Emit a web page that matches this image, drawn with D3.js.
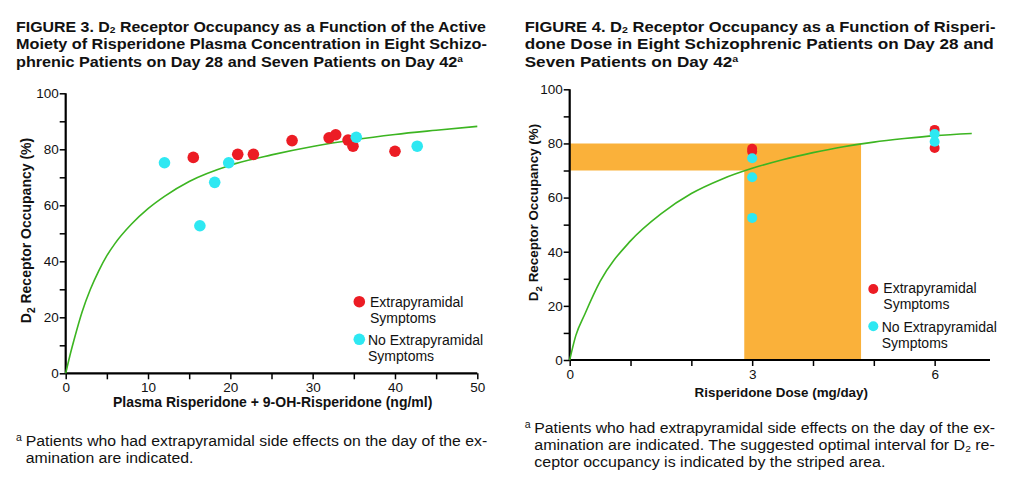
<!DOCTYPE html>
<html><head><meta charset="utf-8">
<script src="https://cdn.jsdelivr.net/npm/d3@7/dist/d3.min.js"></script>
<style>
body{margin:0;background:#fff;}
svg{display:block;font-family:"Liberation Sans",Arial,sans-serif;}
</style></head><body>
<svg id="chart" width="1024" height="490"></svg>
<script>
// ---------- DATA ----------
// Figure 3 (left): plasma concentration vs occupancy
const leftEpsX = [15.5, 20.9, 22.8, 27.5, 32.0, 32.8, 34.3, 34.9, 40.0];
const leftEpsY = [77.1, 78.2, 78.2, 83.1, 84.1, 85.2, 83.3, 81.1, 79.3];
const leftNoX  = [12.0, 16.3, 18.1, 19.8, 35.3, 42.7];
const leftNoY  = [75.2, 52.7, 68.2, 75.2, 84.3, 81.1];
const leftCurveX = [0, 0.5, 1, 2, 3, 4, 5, 6, 8, 10, 12, 15, 20, 25, 30, 35, 40, 45, 50];
const leftCurveY = [0, 6.2, 11.8, 22, 30, 36.5, 42, 46.4, 53.3, 58.8, 63.2, 68.5, 74.3, 78, 81, 83.4, 85.3, 86.8, 88.2];
const leftXTicks = [0, 10, 20, 30, 40, 50];
const leftYTicks = [0, 20, 40, 60, 80, 100];

// Figure 4 (right): dose vs occupancy
const rightEpsX = [3, 3, 6, 6];
const rightEpsY = [78, 77, 85, 78.3];
const rightNoX  = [3, 3, 3, 6, 6];
const rightNoY  = [74.5, 67.5, 52.5, 83.5, 80.6];
const rightCurveX = [0, 0.1, 0.25, 0.5, 1, 1.5, 2, 2.5, 3, 3.5, 4, 4.5, 5, 5.5, 6, 6.61];
const rightCurveY = [0, 9, 17, 29, 44, 54, 61.5, 66.8, 70.8, 74, 76.6, 78.8, 80.5, 81.8, 82.9, 83.7];
const rightXTicks = [0, 3, 6];
const rightYTicks = [0, 20, 40, 60, 80, 100];
const optimalOcc = [70, 80];      // suggested optimal occupancy band (%)
const optimalDose = [2.87, 4.79]; // corresponding dose range (mg/day)

const legendLabels = [["Extrapyramidal", "Symptoms"], ["No Extrapyramidal", "Symptoms"]];

// ---------- STYLE ----------
const RED = "#ec1c24", CYAN = "#2ee8f2", GREEN = "#3cb521", ORANGE = "#fab13a";
const svg = d3.select("#chart");

// write a text line made of parts; scale horizontally to target width (or a given factor)
function line(x, y, parts, size, weight, target, factor) {
  const t = svg.append("text").attr("x", 0).attr("y", 0)
    .attr("font-size", size).attr("font-weight", weight).attr("fill", "#111");
  let shift = 0;
  parts.forEach(p => {
    if (typeof p === "string") {
      const s = t.append("tspan").text(p);
      if (shift) { s.attr("dy", -shift); shift = 0; }
    } else if (p.sub) {
      t.append("tspan").attr("font-size", size * 0.64).attr("dy", 1.8).text(p.sub); shift = 1.8;
    } else if (p.sup) {
      t.append("tspan").attr("font-size", size * 0.62).attr("dy", -5).text(p.sup); shift = -5;
    }
  });
  const w = t.node().getComputedTextLength();
  const k = target ? target / w : (factor || 1);
  t.attr("transform", `translate(${x},${y}) scale(${k.toFixed(4)},1)`);
  return k;
}

function block(x, y0, dy, lines, size, weight, widths) {
  let k = 1;
  lines.forEach((parts, i) => {
    k = line(x, y0 + i * dy, parts, size, weight, widths[i], k);
  });
}

block(16, 31.5, 17.6, [
  ["FIGURE 3. D", {sub: "2"}, " Receptor Occupancy as a Function of the Active"],
  ["Moiety of Risperidone Plasma Concentration in Eight Schizo-"],
  ["phrenic Patients on Day 28 and Seven Patients on Day 42", {sup: "a"}]
], 15.2, "bold", [470, 471, 0]);

block(524.7, 31.5, 17.6, [
  ["FIGURE 4. D", {sub: "2"}, " Receptor Occupancy as a Function of Risperi-"],
  ["done Dose in Eight Schizophrenic Patients on Day 28 and"],
  ["Seven Patients on Day 42", {sup: "a"}]
], 15.2, "bold", [470.6, 469, 0]);

// ---------- panel builder ----------
function panel(cfg) {
  const g = svg.append("g");
  const x = d3.scaleLinear().domain(cfg.xDomain).range(cfg.xRange);
  const y = d3.scaleLinear().domain([0, 100]).range(cfg.yRange);

  if (cfg.band) {
    const [o0, o1] = cfg.band.occ, [d0, d1] = cfg.band.dose;
    const pts = [[0, o1], [d1, o1], [d1, 0], [d0, 0], [d0, o0], [0, o0]];
    g.append("path").attr("fill", ORANGE)
      .attr("d", d3.line().x(d => x(d[0])).y(d => y(d[1]))(pts) + "Z");
  }

  const yAx = g.append("g").attr("transform", `translate(${cfg.xRange[0]},0)`)
    .call(d3.axisLeft(y).tickValues(d3.range(0, 101, 10)).tickSize(6)
      .tickFormat(d => cfg.yTicks.includes(d) ? d : ""));
  const xAx = g.append("g").attr("transform", `translate(0,${cfg.yRange[0]})`)
    .call(d3.axisBottom(x).tickValues(cfg.xMinor).tickSize(6)
      .tickFormat(d => cfg.xTicks.includes(d) ? d : ""));
  [yAx, xAx].forEach(a => {
    a.select(".domain").attr("stroke", "#000").attr("stroke-width", 2.2);
    a.selectAll(".tick line").attr("stroke", "#000").attr("stroke-width", 1.5);
    a.selectAll("text").attr("font-size", 13.5).attr("fill", "#111")
      .attr("font-family", "Liberation Sans, Arial, sans-serif");
  });
  yAx.select(".domain").attr("d", `M0,${cfg.yRange[1]}V${cfg.yRange[0]}`);
  xAx.select(".domain").attr("d", `M${cfg.xRange[0]},0H${cfg.xRange[1]}`);
  yAx.selectAll(".tick text").attr("x", -7);
  xAx.selectAll(".tick text").attr("y", 9);

  g.append("path").datum(cfg.curveX.map((v, i) => [v, cfg.curveY[i]]))
    .attr("fill", "none").attr("stroke", GREEN).attr("stroke-width", 1.6)
    .attr("d", d3.line().x(d => x(d[0])).y(d => y(d[1])).curve(d3.curveMonotoneX));

  const draw = (xs, ys, col) => g.append("g").selectAll("circle")
    .data(xs.map((v, i) => [v, ys[i]])).join("circle")
    .attr("cx", d => x(d[0])).attr("cy", d => y(d[1])).attr("r", cfg.r).attr("fill", col);
  draw(cfg.epsX, cfg.epsY, RED);
  draw(cfg.noX, cfg.noY, CYAN);

  g.append("text").attr("x", cfg.xTitle[0]).attr("y", cfg.xTitle[1]).attr("text-anchor", "middle")
    .attr("font-size", cfg.titleSize).attr("font-weight", "bold").attr("fill", "#111").text(cfg.xLabel);
  const yt = g.append("text").attr("transform", `translate(${cfg.yTitle[0]},${cfg.yTitle[1]}) rotate(-90)`)
    .attr("text-anchor", "middle").attr("font-size", cfg.titleSize).attr("font-weight", "bold").attr("fill", "#111");
  yt.append("tspan").text("D");
  yt.append("tspan").attr("font-size", cfg.titleSize * 0.72).attr("dy", 4).text("2");
  yt.append("tspan").attr("dy", -4).text(" Receptor Occupancy (%)");

  const L = cfg.legend;
  [[RED, 0], [CYAN, 1]].forEach(([col, i]) => {
    g.append("circle").attr("cx", L.cx).attr("cy", L.cy[i]).attr("r", cfg.r).attr("fill", col);
    legendLabels[i].forEach((s, k) => g.append("text").attr("x", L.tx[i]).attr("y", L.ty[i] + k * 16)
      .attr("font-size", 14).attr("fill", "#111").text(s));
  });
}

panel({
  xDomain: [0, 50], xRange: [65.7, 477.3], yRange: [373.3, 93.3],
  xTicks: leftXTicks, xMinor: d3.range(0, 51, 5), yTicks: leftYTicks,
  curveX: leftCurveX, curveY: leftCurveY,
  epsX: leftEpsX, epsY: leftEpsY, noX: leftNoX, noY: leftNoY, r: 5.8,
  xLabel: "Plasma Risperidone + 9-OH-Risperidone (ng/ml)", xTitle: [272.7, 407], titleSize: 14,
  yTitle: [31, 230.5],
  legend: {cx: 359.3, cy: [301.7, 339.3], tx: [370, 368], ty: [306.7, 345]}
});

panel({
  xDomain: [0, 6.91], xRange: [569.7, 990], yRange: [360, 89.3],
  xTicks: rightXTicks, xMinor: [0, 1, 2, 3, 4, 5, 6], yTicks: rightYTicks,
  curveX: rightCurveX, curveY: rightCurveY,
  epsX: rightEpsX, epsY: rightEpsY, noX: rightNoX, noY: rightNoY, r: 5,
  band: {occ: optimalOcc, dose: optimalDose},
  xLabel: "Risperidone Dose (mg/day)", xTitle: [781.3, 397], titleSize: 13.4,
  yTitle: [537.5, 212.5],
  legend: {cx: 873.3, cy: [289, 326.3], tx: [883.3, 881.7], ty: [293.3, 331.7]}
});

// ---------- footnotes ----------
function footnote(ax, tx, y0, lines, widths) {
  svg.append("text").attr("x", ax).attr("y", y0 - 5).attr("font-size", 10.5).attr("fill", "#111").text("a");
  block(tx, y0, 16.8, lines, 15.3, "normal", widths);
}
footnote(16, 25.7, 446, [
  ["Patients who had extrapyramidal side effects on the day of the ex-"],
  ["amination are indicated."]
], [461.6, 0]);
footnote(524.7, 534.3, 433, [
  ["Patients who had extrapyramidal side effects on the day of the ex-"],
  ["amination are indicated. The suggested optimal interval for D", {sub: "2"}, " re-"],
  ["ceptor occupancy is indicated by the striped area."]
], [461, 461, 0]);
</script>
</body></html>
